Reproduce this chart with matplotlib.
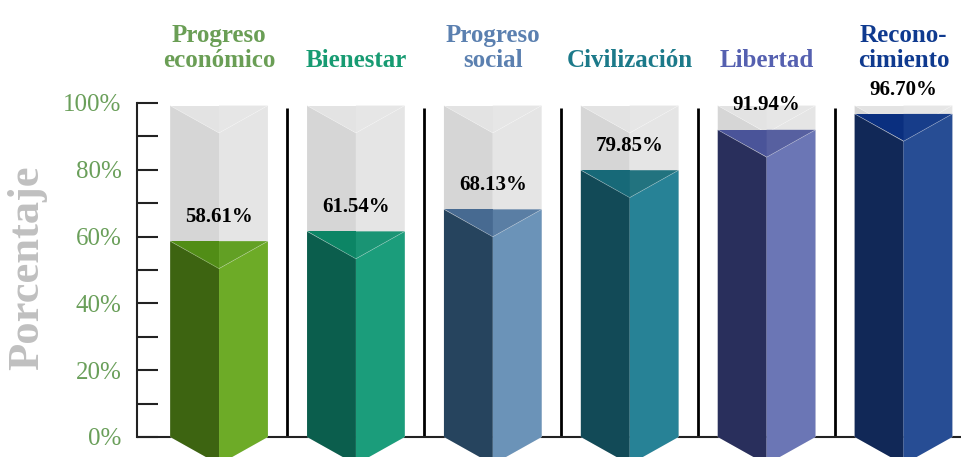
import matplotlib.pyplot as plt
from matplotlib.patches import Polygon

plt.rcParams['font.family'] = ['Liberation Serif', 'DejaVu Serif']

categories = ["Progreso\neconómico", "Bienestar", "Progreso\nsocial",
              "Civilización", "Libertad", "Recono-\ncimiento"]
values = [58.61, 61.54, 68.13, 79.85, 91.94, 96.70]
value_labels = ["58.61%", "61.54%", "68.13%", "79.85%", "91.94%", "96.70%"]
tick_values = [0, 20, 40, 60, 80, 100]
tick_labels = ["0%", "20%", "40%", "60%", "80%", "100%"]

label_colors = ["#6a9e55", "#179b72", "#5b80b0", "#1c7a8a", "#5560b0", "#0f3a8f"]
front_left = ["#3d6411", "#0b5e4d", "#26445e", "#124a57", "#292f5c", "#112857"]
front_right = ["#6dab27", "#1b9d7b", "#6b93b8", "#278296", "#6b76b5", "#274d94"]
top_left = ["#518d16", "#0c8565", "#476a91", "#176978", "#4a5499", "#0a2f7f"]
top_right = ["#62a024", "#1a9474", "#5a7ea4", "#22737f", "#5760a0", "#173d8a"]
grey_cols = ["#d6d6d6", "#e5e5e5", "#e3e3e3", "#e6e6e6"]

HALF = 0.357   # half bar width in category units
DEPTH = 8.2    # depth of the V edges in % units


def prism(ax, x, top, cols, z):
    fl, fr, tl, tr = cols
    h, d = HALF, DEPTH
    ax.add_patch(Polygon([(x - h, top), (x, top - d), (x, -d), (x - h, 0)],
                         closed=True, fc=fl, ec='none', zorder=z))
    ax.add_patch(Polygon([(x, top - d), (x + h, top), (x + h, 0), (x, -d)],
                         closed=True, fc=fr, ec='none', zorder=z))
    ax.add_patch(Polygon([(x - h, top), (x, top), (x, top - d)],
                         closed=True, fc=tl, ec='none', zorder=z))
    ax.add_patch(Polygon([(x, top), (x + h, top), (x, top - d)],
                         closed=True, fc=tr, ec='none', zorder=z))
    ax.plot([x - h, x, x + h], [top, top - d, top], color='white',
            lw=0.5, alpha=0.35, zorder=z + 0.1)


fig = plt.figure(figsize=(9.61, 4.57), dpi=100)
ax = fig.add_axes([0, 0, 1, 1])
ax.set_xlim(-1.6, 5.42)
ax.set_ylim(-6, 130.8)

for i, v in enumerate(values):
    prism(ax, i, 99.2, grey_cols, 2)
    prism(ax, i, v, (front_left[i], front_right[i], top_left[i], top_right[i]), 3)
    ax.text(i, v + 7.3, value_labels[i], ha='center', va='center',
            fontsize=15, fontweight='bold', color='black', zorder=5)
    ax.text(i, 109.3, categories[i], ha='center', va='bottom', fontsize=18,
            fontweight='bold', color=label_colors[i], linespacing=1.1)

# separators and baseline
ax.vlines([i + 0.5 for i in range(len(values) - 1)], 0, 98.5,
          color='black', lw=2, zorder=1)
ax.hlines(0, -0.6, 5.42, color='#222222', lw=1.5, zorder=1)

for s in ['top', 'right', 'bottom']:
    ax.spines[s].set_visible(False)
ax.spines['left'].set_position(('data', -0.6))
ax.spines['left'].set_bounds(0, 100)
ax.spines['left'].set_linewidth(1.5)
ax.spines['left'].set_color('#222222')

ax.set_xticks([])
ax.set_yticks(tick_values)
ax.set_yticklabels(tick_labels)
ax.set_yticks([10, 30, 50, 70, 90], minor=True)
ax.tick_params(axis='y', which='both', direction='in', length=15, width=1.5,
               color='#222222', pad=11)
ax.tick_params(axis='y', which='major', labelsize=18, labelcolor='#6a9f5a')

ax.text(-1.40, 50.6, "Porcentaje", rotation=90, ha='center', va='center',
        fontsize=32, fontweight='bold', color='#c0c0c0')

fig.savefig("out.png", dpi=100)
